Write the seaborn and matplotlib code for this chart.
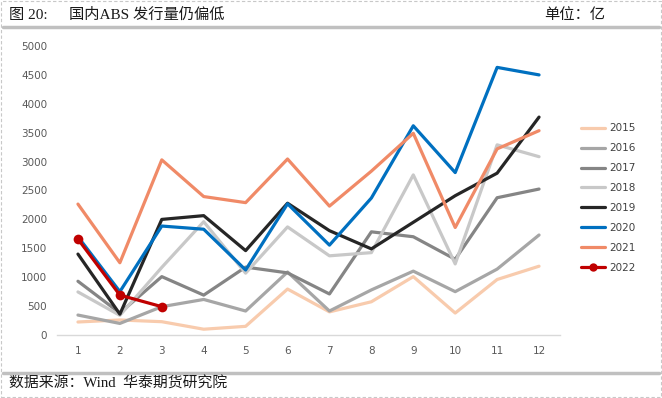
import pandas as pd
import seaborn as sns
import matplotlib.pyplot as plt
from matplotlib.lines import Line2D
from matplotlib.patches import Rectangle

# monthly ABS issuance, 100 million yuan
months = list(range(1, 13))
y2015 = [225, 260, 230, 100, 150, 795, 400, 575, 1010, 380, 960, 1190]
y2016 = [345, 200, 490, 615, 415, 1090, 415, 780, 1105, 750, 1140, 1730]
y2017 = [930, 380, 1010, 690, 1175, 1075, 710, 1785, 1700, 1310, 2375, 2525]
y2018 = [745, 340, 1170, 1960, 1070, 1870, 1370, 1425, 2770, 1230, 3290, 3085]
y2019 = [1400, 360, 2000, 2065, 1460, 2280, 1805, 1490, 1950, 2410, 2800, 3770]
y2020 = [1700, 750, 1885, 1830, 1125, 2270, 1555, 2370, 3620, 2810, 4630, 4500]
y2021 = [2265, 1250, 3030, 2395, 2290, 3045, 2230, 2835, 3490, 1860, 3220, 3535]
y2022 = [1660, 690, 490]

years = ['2015', '2016', '2017', '2018', '2019', '2020', '2021', '2022']
series = [y2015, y2016, y2017, y2018, y2019, y2020, y2021, y2022]
colors = {
    '2015': '#F8CBAD', '2016': '#A6A6A6', '2017': '#858585', '2018': '#C8C8C8',
    '2019': '#262626', '2020': '#0070C0', '2021': '#F08A67', '2022': '#C00000',
}

rows = []
for yr, vals in zip(years, series):
    for m, v in zip(months, vals):
        rows.append({'month': m, 'value': v, 'year': yr})
df = pd.DataFrame(rows)

sns.set_style('white')
plt.rcParams['font.family'] = ['Liberation Serif', 'Noto Sans CJK SC']

fig = plt.figure(figsize=(6.62, 3.98), dpi=100)
ax = fig.add_axes([57 / 662, 63 / 398, 503 / 662, 289 / 398])

for yr in years:
    sub = df[df['year'] == yr]
    sns.lineplot(data=sub, x='month', y='value', ax=ax, color=colors[yr],
                 linewidth=2.3, marker='o' if yr == '2022' else None,
                 markersize=7, markeredgewidth=0, legend=False)

ax.set_xlim(0.5, 12.5)
ax.set_ylim(0, 5000)
ax.set_xticks(months)
ax.set_yticks(range(0, 5001, 500))
ax.set_xlabel('')
ax.set_ylabel('')
tick_font = ['DejaVu Sans']
for lab in ax.get_xticklabels() + ax.get_yticklabels():
    lab.set_family(tick_font)
    lab.set_fontsize(7.5)
    lab.set_color('#595959')
ax.tick_params(axis='both', length=0, pad=8)
ax.tick_params(axis='y', pad=7)
for s in ['top', 'right', 'left']:
    ax.spines[s].set_visible(False)
ax.spines['bottom'].set_color('#D9D9D9')
ax.spines['bottom'].set_linewidth(1)

handles = []
for yr in years:
    handles.append(Line2D([0], [0], color=colors[yr], lw=2.3,
                          marker='o' if yr == '2022' else None,
                          markersize=6, markeredgewidth=0))
leg = fig.legend(handles, years, loc='upper left', bbox_to_anchor=(572 / 662, 1 - 114 / 398),
                 frameon=False, handlelength=2.3, labelspacing=0.95,
                 prop={'family': 'DejaVu Sans', 'size': 7.5}, handletextpad=0.4)
for t in leg.get_texts():
    t.set_color('#404040')

# frame, header and footer
fig.add_artist(Rectangle((1 / 662, 1 / 398), 660 / 662, 396 / 398, transform=fig.transFigure,
                         fill=False, edgecolor='#C8C8C8', linestyle=(0, (3, 2)), lw=0.8))
fig.add_artist(Line2D([3 / 662, 659 / 662], [1 - 27 / 398] * 2, color='#C0C0C0', lw=2.5))
fig.add_artist(Line2D([3 / 662, 659 / 662], [1 - 373 / 398] * 2, color='#C0C0C0', lw=2.5))
fig.text(9 / 662, 1 - 15 / 398, '图 20:', fontsize=11, va='center', color='#1a1a1a')
fig.text(69 / 662, 1 - 15 / 398, '国内ABS 发行量仍偏低', fontsize=11, va='center', color='#1a1a1a')
fig.text(544 / 662, 1 - 15 / 398, '单位：亿', fontsize=11, va='center', color='#1a1a1a')
fig.text(9 / 662, 1 - 384 / 398, '数据来源：Wind  华泰期货研究院', fontsize=10.7, va='center', color='#1a1a1a')

fig.savefig('out.png', dpi=100)
